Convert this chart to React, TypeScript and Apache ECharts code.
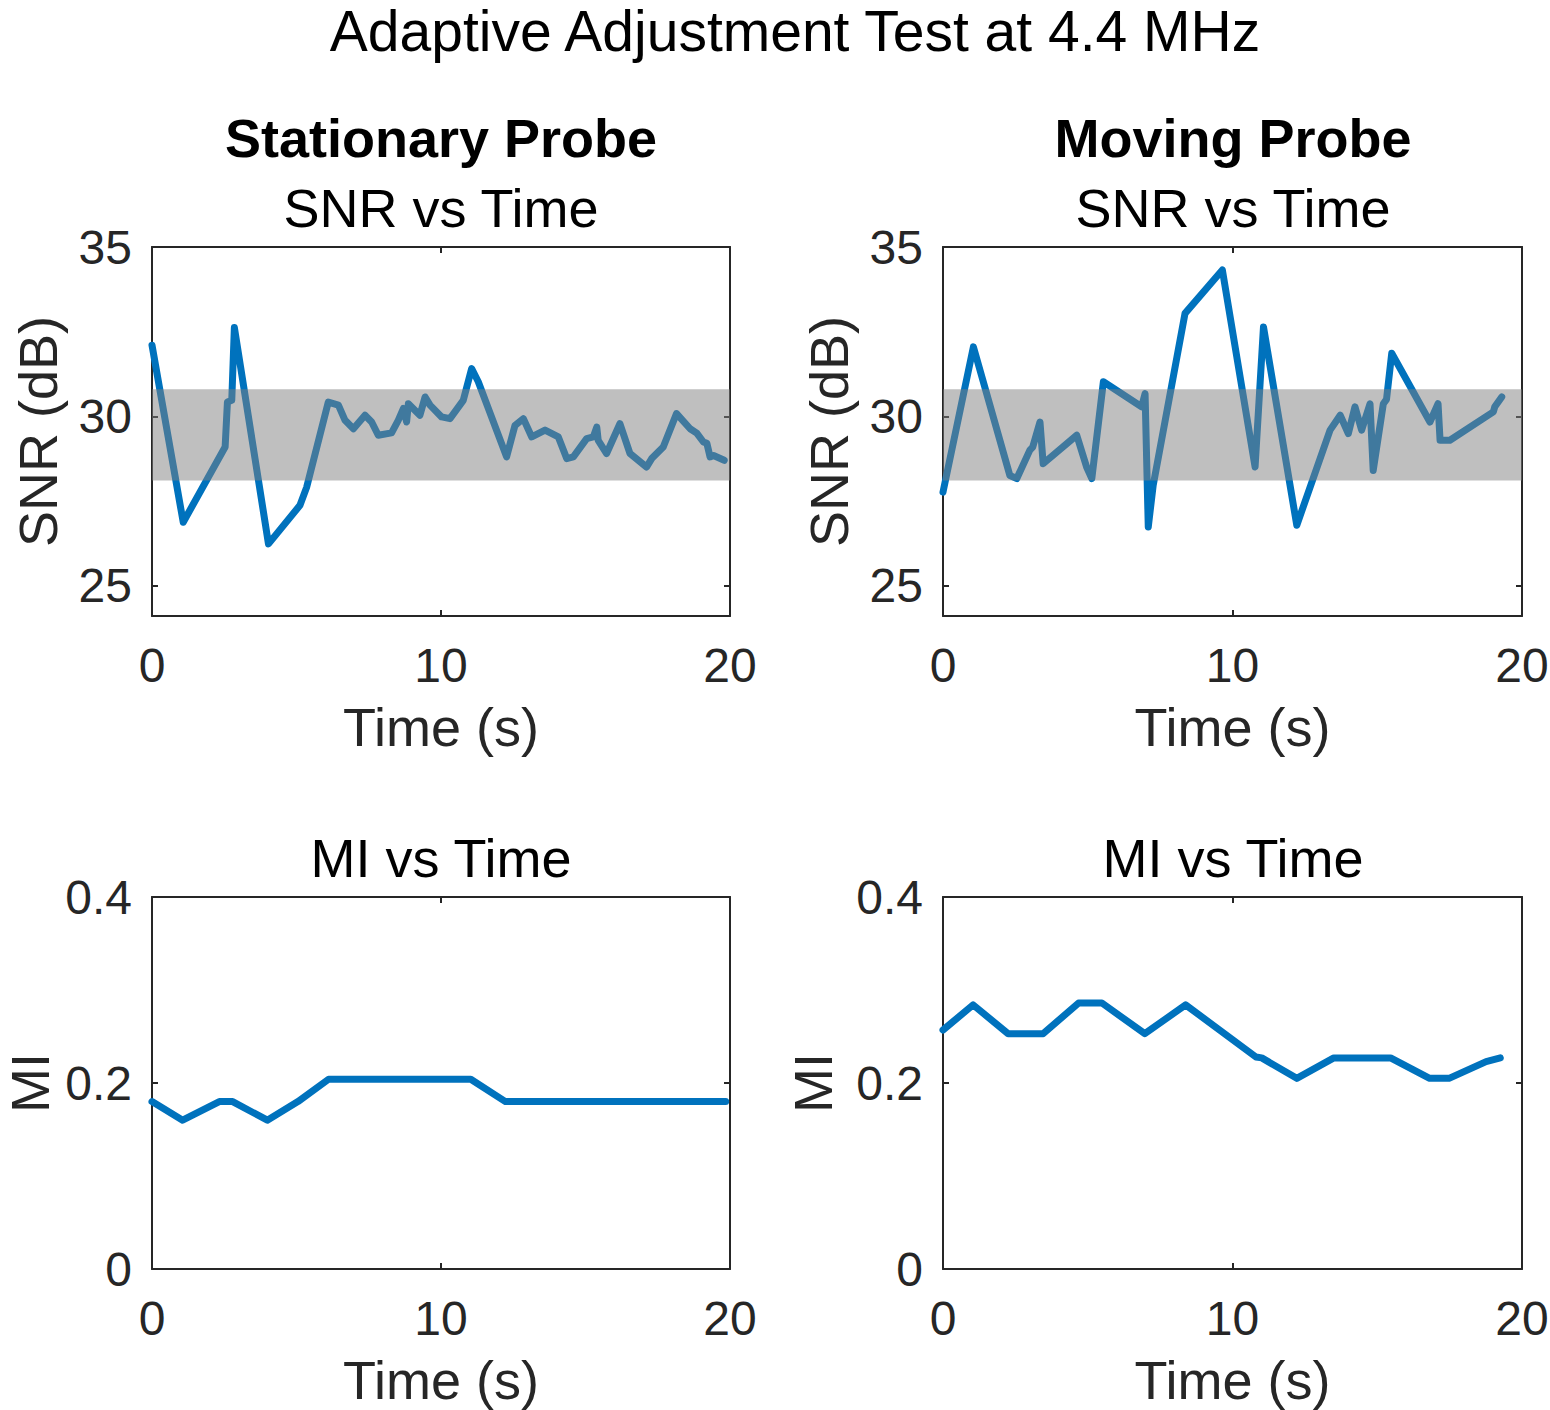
import React, { useEffect, useRef } from "react";
import * as echarts from "echarts";

// ---------- data ----------
const stationaryTime = [0, 1.08, 2.53, 2.61, 2.76, 2.85, 4.03, 5.12, 5.35, 6.1, 6.45, 6.68, 6.97, 7.37, 7.6, 7.83, 8.29, 8.52, 8.7, 8.81, 8.87, 9.27, 9.45, 9.62, 10.02, 10.31, 10.77, 11.06, 11.29, 12.27, 12.56, 12.85, 13.14, 13.6, 14.06, 14.35, 14.58, 15.04, 15.27, 15.39, 15.44, 15.73, 16.19, 16.54, 17.11, 17.29, 17.69, 18.15, 18.62, 18.85, 19.08, 19.2, 19.31, 19.43, 19.8];
const stationarySNR = [32.1, 26.87, 29.09, 30.42, 30.47, 32.62, 26.23, 27.37, 27.9, 30.42, 30.33, 29.88, 29.63, 30.03, 29.83, 29.44, 29.51, 29.88, 30.23, 29.83, 30.37, 30.03, 30.57, 30.33, 29.98, 29.93, 30.47, 31.41, 31.02, 28.8, 29.73, 29.93, 29.39, 29.59, 29.39, 28.75, 28.8, 29.34, 29.39, 29.68, 29.29, 28.9, 29.78, 28.9, 28.5, 28.75, 29.09, 30.08, 29.63, 29.5, 29.24, 29.2, 28.8, 28.84, 28.7];

const movingTime = [0, 1.05, 2.31, 2.55, 3.0, 3.1, 3.35, 3.46, 4.62, 4.96, 5.14, 5.54, 6.86, 6.98, 7.09, 7.26, 8.36, 9.65, 10.78, 11.07, 12.22, 13.37, 13.72, 14.0, 14.23, 14.46, 14.75, 14.86, 15.21, 15.32, 15.5, 16.82, 17.1, 17.17, 17.51, 19.01, 19.06, 19.3];
const movingSNR = [27.76, 32.05, 28.25, 28.16, 29.0, 29.09, 29.83, 28.6, 29.44, 28.5, 28.16, 31.02, 30.28, 30.67, 26.73, 27.96, 33.04, 34.32, 28.5, 32.64, 26.78, 29.59, 30.03, 29.49, 30.28, 29.59, 30.37, 28.4, 30.37, 30.5, 31.86, 29.83, 30.37, 29.29, 29.29, 30.13, 30.28, 30.57];

const stationaryMITime = [0, 1.06, 2.33, 2.79, 3.99, 5.05, 6.11, 11.03, 12.23, 19.85];
const stationaryMI = [0.18, 0.16, 0.18, 0.18, 0.16, 0.18, 0.204, 0.204, 0.18, 0.18];

const movingMITime = [0, 1.04, 2.25, 3.46, 4.68, 5.49, 6.97, 8.38, 10.81, 11.01, 12.22, 13.5, 15.46, 16.81, 17.48, 18.76, 19.25];
const movingMI = [0.257, 0.284, 0.253, 0.253, 0.286, 0.286, 0.253, 0.284, 0.228, 0.227, 0.205, 0.227, 0.227, 0.205, 0.205, 0.223, 0.227];

const snrBand = [28.1, 30.8];
const snrRange = [24.1, 35];
const snrTicks = [25, 30, 35];
const miRange = [0, 0.4];
const timeRange = [0, 20];

// ---------- styling ----------
const FONT = "'Liberation Sans', Arial, Helvetica, sans-serif";
const AXIS = "#262626";
const LINE = "#0072BD";

const grids = [
  { left: 152, top: 247, width: 578, height: 369 },
  { left: 943, top: 247, width: 579, height: 369 },
  { left: 152, top: 897, width: 578, height: 372 },
  { left: 943, top: 897, width: 579, height: 372 },
];

const zip = (xs: number[], ys: number[]) => xs.map((x, i) => [x, ys[i]]);

function makeX(gridIndex: number, primary: boolean) {
  return {
    type: "value",
    gridIndex,
    position: primary ? "bottom" : "top",
    min: timeRange[0],
    max: timeRange[1],
    interval: 10,
    name: primary ? "Time (s)" : "",
    nameLocation: "middle",
    nameGap: 84,
    nameTextStyle: { fontFamily: FONT, fontSize: 54, color: AXIS },
    axisLine: { show: true, onZero: false, lineStyle: { color: AXIS, width: 2 } },
    axisTick: { show: true, inside: true, length: 6, lineStyle: { color: AXIS, width: 2 } },
    axisLabel: { show: primary, margin: 25, fontFamily: FONT, fontSize: 48, color: AXIS },
    splitLine: { show: false },
  };
}

function makeY(gridIndex: number, primary: boolean, isSNR: boolean) {
  const base: any = {
    type: "value",
    gridIndex,
    position: primary ? "left" : "right",
    name: primary ? (isSNR ? "SNR (dB)" : "MI") : "",
    nameLocation: "middle",
    nameGap: isSNR ? 87 : gridIndex === 2 ? 100 : 108,
    nameTextStyle: { fontFamily: FONT, fontSize: 54, color: AXIS, lineHeight: isSNR ? 54 : 44 },
    axisLine: { show: true, onZero: false, lineStyle: { color: AXIS, width: 2 } },
    axisTick: { show: true, inside: true, length: 6, lineStyle: { color: AXIS, width: 2 } },
    axisLabel: { show: primary, margin: 20, fontFamily: FONT, fontSize: 48, color: AXIS },
    splitLine: { show: false },
  };
  if (isSNR) {
    base.min = snrRange[0];
    base.max = snrRange[1];
    base.axisTick.customValues = snrTicks;
    base.axisLabel.customValues = snrTicks;
  } else {
    base.min = miRange[0];
    base.max = miRange[1];
    base.interval = 0.2;
  }
  return base;
}

function lineSeries(idx: number, data: number[][], band: boolean) {
  const s: any = {
    type: "line",
    xAxisIndex: idx * 2,
    yAxisIndex: idx * 2,
    data,
    showSymbol: false,
    symbol: "none",
    z: 2,
    lineStyle: { color: LINE, width: 7, join: "round", cap: "round" },
    itemStyle: { color: LINE },
  };
  if (band) {
    s.markArea = {
      z: 4,
      silent: true,
      itemStyle: { color: "rgba(128,128,128,0.5)" },
      data: [[{ xAxis: timeRange[0], yAxis: snrBand[0] }, { xAxis: timeRange[1], yAxis: snrBand[1] }]],
    };
  }
  return s;
}

function title(text: string, x: number, y: number, size: number, bold = false, lineHeight?: number) {
  return {
    type: "text",
    x,
    y,
    style: {
      text,
      fontFamily: FONT,
      fontSize: size,
      fontWeight: bold ? "bold" : "normal",
      fill: "#000",
      textAlign: "center",
      textVerticalAlign: "middle",
      lineHeight: lineHeight ?? size,
    },
  };
}

export default function App() {
  const ref = useRef<HTMLDivElement>(null);
  useEffect(() => {
    if (!ref.current) return;
    const chart = echarts.init(ref.current, undefined, { renderer: "svg" });
    const xAxis: any[] = [];
    const yAxis: any[] = [];
    grids.forEach((_, i) => {
      xAxis.push(makeX(i, true), makeX(i, false));
      yAxis.push(makeY(i, true, i < 2), makeY(i, false, i < 2));
    });
    chart.setOption({
      animation: false,
      backgroundColor: "#fff",
      textStyle: { fontFamily: FONT },
      grid: grids.map((g) => ({ ...g, show: false, containLabel: false, outerBoundsMode: "none" })),
      xAxis,
      yAxis,
      series: [
        lineSeries(0, zip(stationaryTime, stationarySNR), true),
        lineSeries(1, zip(movingTime, movingSNR), true),
        lineSeries(2, zip(stationaryMITime, stationaryMI), false),
        lineSeries(3, zip(movingMITime, movingMI), false),
      ],
      graphic: [
        title("Adaptive Adjustment Test at 4.4 MHz", 795, 31, 57, false, 50),
        title("Stationary Probe", 441, 138, 54, true),
        title("SNR vs Time", 441, 208, 54),
        title("Moving Probe", 1233, 138, 54, true),
        title("SNR vs Time", 1233, 208, 54),
        title("MI vs Time", 441, 858, 54),
        title("MI vs Time", 1233, 858, 54),
      ],
    });
    return () => chart.dispose();
  }, []);
  return (
    <div
      ref={ref}
      style={{ position: "absolute", left: 0, top: 0, width: 1550, height: 1410 }}
    />
  );
}
